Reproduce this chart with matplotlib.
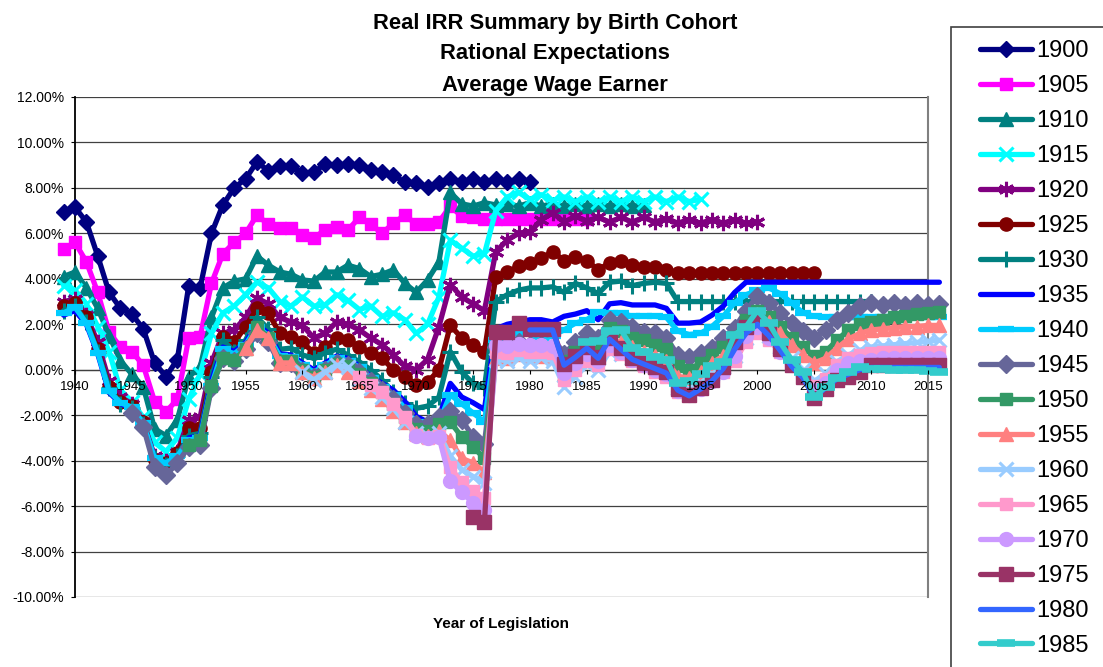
import numpy as np
import matplotlib
matplotlib.use('Agg')
import matplotlib.pyplot as plt
from matplotlib.patches import Rectangle

plt.rcParams['font.family'] = ['Liberation Sans', 'DejaVu Sans']

# ---------------- data (real IRR, %) ----------------
cohorts = [1900, 1905, 1910, 1915, 1920, 1925, 1930, 1935, 1940,
           1945, 1950, 1955, 1960, 1965, 1970, 1975, 1980, 1985]
start_years = [1939, 1939, 1939, 1939, 1939, 1939, 1939, 1939, 1939,
               1945, 1950, 1955, 1960, 1965, 1970, 1975, 1980, 1985]

irr_1900 = [6.95, 7.15, 6.5, 5.0, 3.4, 2.7, 2.45, 1.8, 0.3, -0.3, 0.45, 3.7, 3.6, 6.0,
            7.25, 8.0, 8.4, 9.15, 8.75, 8.95, 8.95, 8.65, 8.7, 9.05, 9.0, 9.05, 9.0,
            8.8, 8.7, 8.55, 8.25, 8.2, 8.05, 8.2, 8.4, 8.25, 8.4, 8.25, 8.4, 8.25, 8.4, 8.25]
irr_1905 = [5.3, 5.6, 4.75, 3.4, 1.65, 1.0, 0.8, 0.2, -1.4, -1.85, -1.3, 1.4, 1.45, 3.8,
            5.1, 5.6, 6.0, 6.8, 6.4, 6.25,
            6.25, 5.95, 5.8, 6.15, 6.3, 6.15, 6.7, 6.4, 6.0, 6.45, 6.8, 6.4, 6.4, 6.5, 7.2, 6.75,
            6.7, 6.65, 6.65, 6.65, 6.65, 6.65, 6.65, 6.65, 6.65, 6.65, 6.65]
irr_1910 = [4.1, 4.3, 3.6, 2.7, 1.5, 0.4, -0.2, -0.75, -2.6, -2.9, -2.2, -0.3, 0.1, 2.3,
            3.6, 3.9, 4.0, 5.0, 4.6, 4.3, 4.2, 3.95, 3.9, 4.3, 4.3, 4.6, 4.45, 4.1, 4.2,
            4.4, 3.8, 3.4, 3.95, 4.75, 7.8,
            7.3, 7.2, 7.35, 7.25, 7.3, 7.2, 7.35, 7.2, 7.3, 7.2, 7.3, 7.2, 7.3, 7.2, 7.3, 7.2, 7.25]
irr_1915 = [3.7, 3.5, 2.9, 1.9, 0.8, -0.9, -1.4, -2.1, -3.2, -3.6, -3.0, -1.3, -0.2, 1.6,
            2.5, 2.8, 3.3, 3.85, 3.6, 3.0, 2.8, 3.2, 2.8, 2.85, 3.3, 3.05, 2.65, 2.8, 2.35,
            2.5, 2.2, 1.6, 2.0, 3.2, 5.7, 5.35, 5.0, 5.1, 7.0, 7.6, 7.8, 7.5, 7.7, 7.45,
            7.6, 7.4, 7.6, 7.4, 7.6, 7.4, 7.6, 7.4, 7.6, 7.4, 7.6, 7.4, 7.5]
irr_1920 = [3.0, 3.1, 2.4, 1.2, -0.5, -1.2, -1.5, -2.3, -3.8, -4.0, -3.6, -2.2, -2.1, 0.3,
            1.6, 1.75, 2.3, 3.15, 2.9, 2.3, 2.1, 1.95, 1.4, 1.6, 2.1, 2.0, 1.75, 1.4, 1.1,
            0.65, 0.15, 0.0, 0.45, 1.9, 3.75, 3.2, 2.9, 2.6, 5.2, 5.7, 6.0, 6.05, 6.6, 6.9,
            6.5, 6.75,
            6.55, 6.7, 6.5, 6.7, 6.5, 6.7, 6.5, 6.65, 6.45, 6.6, 6.45, 6.6, 6.45, 6.6, 6.45, 6.5]
irr_1925 = [2.8, 2.95, 2.3, 0.9, -0.75, -1.4, -1.6, -2.3, -3.95, -4.1, -3.65, -2.55, -2.55,
            -0.1, 1.45, 1.2, 1.9, 2.7, 2.5, 1.6, 1.45, 1.2, 0.75, 1.0, 1.4, 1.3, 1.0, 0.75,
            0.5, 0.0, -0.3, -0.65, -0.55, 0.0, 1.95, 1.4, 1.1, 0.8, 4.1, 4.3, 4.55, 4.7,
            4.9, 5.2, 4.8, 4.95, 4.8, 4.4, 4.7, 4.8, 4.6, 4.5, 4.5, 4.4,
            4.25, 4.25, 4.25, 4.25, 4.25, 4.25, 4.25, 4.25, 4.25, 4.25, 4.25, 4.25, 4.25]
irr_1930 = [2.6, 2.8, 2.1, 0.8, -0.8, -1.5, -1.7, -2.4, -3.9, -4.2, -3.8, -2.9, -2.8, -0.3,
            1.3, 0.8, 1.3, 2.3, 1.8, 0.9, 0.95, 0.65, 0.5, 0.75, 0.9, 0.65, 0.35, 0.0,
            -0.45, -1.0, -1.45, -1.7, -1.6, -1.2, 0.8, -0.1, -0.6, -0.8, 3.0, 3.3, 3.5,
            3.6, 3.6, 3.65, 3.4, 3.8, 3.6, 3.35, 3.85, 3.9, 3.7, 3.8, 3.85, 3.8,
            3.0, 3.0, 3.0, 3.0, 3.0, 3.0, 3.0, 3.0, 3.0, 3.0, 3.0, 3.0, 3.0, 3.0, 3.0, 3.0, 3.0, 3.0]
irr_1935 = [2.4, 2.6, 2.0, 0.7, -1.0, -1.5, -1.7, -2.4, -3.9, -4.1, -3.9, -3.0, -2.9, -0.5,
            1.0, 0.8, 1.2, 2.0, 1.6, 0.7, 0.65, 0.3, 0.0, 0.3, 0.6, 0.5, 0.15, -0.3, -0.6,
            -0.9, -1.4, -2.05, -2.3, -2.1, -0.6, -1.2, -1.45, -1.75, 1.8, 2.0, 2.1, 2.2,
            2.2, 2.1, 2.35, 2.45, 2.6, 2.2, 2.9, 2.95, 2.85, 2.85, 2.85, 2.7, 2.05, 2.05,
            2.1, 2.4, 2.8, 3.4, 3.85,
            3.85, 3.85, 3.85, 3.85, 3.85, 3.85, 3.85, 3.85, 3.85, 3.85, 3.85, 3.85, 3.85,
            3.85, 3.85, 3.85, 3.85]
irr_1940 = [2.5, 2.75, 2.05, 0.75, -0.95, -1.45, -1.65, -2.35, -3.9, -4.1, -3.8, -3.1, -3.0,
            -0.7, 0.9, 0.7, 1.1, 1.9, 1.5, 0.6, 0.55, 0.2, -0.1, 0.2, 0.5, 0.4, 0.1, -0.35,
            -0.75, -1.1, -1.7, -2.3, -2.5, -2.3, -1.1, -1.5, -1.9, -2.3, 1.3, 1.5, 1.6, 1.6,
            1.3, 1.5, 1.75, 2.05, 2.2, 2.55, 2.5, 2.5, 2.35, 2.35, 2.35, 2.3, 1.7, 1.55, 1.6,
            1.9, 2.35, 2.95, 3.3, 3.5, 3.6, 3.35, 2.95, 2.5, 2.35,
            2.3, 2.3, 2.3, 2.3, 2.3, 2.3, 2.3, 2.3, 2.3, 2.3, 2.3]
irr_1945 = [-1.9, -2.5, -4.3, -4.65, -4.1, -3.4, -3.3, -0.8, 0.5, 0.4, 0.9, 1.6, 1.2, 0.3,
            0.3, -0.05, -0.3, 0.0, 0.3, 0.2, -0.1, -0.5, -0.9, -1.3, -1.9, -2.4, -2.4, -2.1,
            -1.8, -2.2, -2.95, -3.25,
            1.0, 1.0, 1.2, 1.1, 1.1, 1.0, 0.7, 1.2, 1.6, 1.4,
            2.2, 2.1, 1.9, 1.65, 1.6, 1.4, 0.65, 0.55, 0.75, 0.95,
            1.4, 1.85, 2.6, 3.25, 2.95, 2.5, 2.05, 1.7, 1.4, 1.75,
            2.2, 2.5, 2.8, 2.95, 2.85, 2.95, 2.85, 2.95, 2.85, 2.9]
irr_1950 = [-3.3, -3.1, -0.7, 0.5, 0.45, 0.9, 1.9, 1.4, 0.4, 0.4, 0.0, -0.3, 0.0, 0.25,
            0.15, -0.2, -0.6, -1.0, -1.5, -2.1, -2.6, -2.7, -2.4, -2.3, -2.95, -3.4, -3.9,
            0.8, 0.8, 0.9, 0.85, 0.85, 0.8, 0.4, 0.8, 1.1, 1.0,
            1.85, 1.7, 1.4, 1.3, 1.1, 0.9, 0.15, 0.0, 0.3, 0.65,
            1.0, 1.45, 2.2, 2.6, 2.3, 1.9, 1.4, 1.0, 0.6, 0.8,
            1.3, 1.75, 2.0, 2.1, 2.2, 2.3, 2.35, 2.45, 2.5, 2.55]
irr_1955 = [0.95, 1.75, 1.4, 0.3, 0.3, -0.1, -0.35, -0.1, 0.2, -0.1, -0.5, -0.9, -1.3, -1.8,
            -2.3, -2.8, -2.9, -2.7, -3.1, -3.9, -4.1, -4.5,
            0.5, 0.5, 0.7, 0.6, 0.6, 0.6, -0.2, 0.2, 0.6, 0.5,
            1.3, 1.2, 1.0, 0.8, 0.6, 0.4, -0.3, -0.35, -0.1, 0.3,
            0.6, 1.1, 1.9, 2.45, 2.1, 1.6, 1.1, 0.65, 0.3, 0.5,
            0.95, 1.35, 1.6, 1.75, 1.8, 1.85, 1.9, 1.9, 1.95, 1.95]
irr_1960 = [-0.1, -0.45, -0.1, 0.2, 0.1, -0.4, -0.8, -1.2, -1.7, -2.3, -2.8, -2.9, -2.8,
            -3.8, -4.4, -4.7, -5.0,
            0.45, 0.4, 0.5, 0.4, 0.5, 0.4, -0.75, -0.3, 0.2, 0.0,
            0.8, 0.7, 0.5, 0.3, 0.1, -0.1, -0.8, -0.85, -0.6, -0.2,
            0.1, 0.6, 1.4, 1.8, 1.5, 1.0, 0.5, 0.0, -0.5, -0.2,
            0.35, 0.65, 0.85, 1.0, 1.05, 1.1, 1.15, 1.2, 1.25, 1.3]
irr_1965 = [-0.3, -0.65, -1.0, -1.5, -2.1, -2.85, -3.0, -2.9, -4.3, -4.95, -5.35, -5.65,
            0.8, 0.75, 0.85, 0.8, 0.8, 0.75, -0.45, 0.0, 0.4, 0.2,
            0.9, 0.7, 0.4, 0.15, -0.1, -0.3, -1.0, -1.05, -0.8, -0.4,
            -0.1, 0.4, 1.2, 1.6, 1.3, 0.8, 0.3, -0.2, -0.7, -0.4,
            0.2, 0.5, 0.65, 0.75, 0.8, 0.8, 0.8, 0.8, 0.8, 0.8]
irr_1970 = [-2.9, -3.0, -2.95, -4.9, -5.4, -5.85, -6.15,
            1.1, 1.05, 1.15, 1.1, 1.1, 1.05, -0.15, 0.3, 0.7, 0.4,
            1.1, 0.8, 0.45, 0.2, 0.0, -0.2, -0.95, -1.1, -0.85, -0.5,
            -0.1, 0.6, 1.5, 1.9, 1.4, 0.8, 0.2, -0.3, -0.9, -0.6,
            0.0, 0.3, 0.4, 0.45, 0.5, 0.5, 0.5, 0.5, 0.5, 0.5]
irr_1975 = [-6.5, -6.7,
            1.65, 1.65, 2.05, 1.8, 1.8, 1.8, 0.25, 0.6, 1.0, 0.55,
            1.4, 0.95, 0.5, 0.3, 0.1, -0.1, -0.85, -1.1, -0.8, -0.45,
            0.1, 1.2, 1.9, 2.2, 1.6, 0.9, 0.2, -0.3, -1.25, -0.85,
            -0.45, -0.3, -0.1, 0.2, 0.2, 0.2, 0.2, 0.2, 0.2, 0.2]
irr_1980 = [1.75, 1.75, 1.75, 0.2, 0.55, 0.95, 0.5,
            1.35, 0.9, 0.45, 0.25, 0.05, -0.15, -0.9, -1.15, -0.85, -0.5,
            0.05, 0.9, 1.6, 2.0, 1.5, 0.85, 0.15, -0.35, -1.2, -0.8,
            -0.4, -0.2, 0.0, 0.1, 0.1, 0.1, 0.1, 0.1, 0.1, 0.1]
irr_1985 = [1.2, 1.25, 1.7, 1.75, 0.95, 0.8, 0.55, 0.45, -0.6, -0.5, -0.2, 0.15,
            0.35, 1.55, 1.9, 2.6, 2.05, 1.2, 0.45, -0.1, -1.2, -0.75,
            -0.35, -0.1, 0.1, 0.05, 0.05, 0.0, 0.0, 0.0, -0.05, -0.1]

x_tick_years = list(range(1940, 2016, 5))
y_ticks = list(range(-10, 13, 2))

# ---------------- styles ----------------
colors = ['#000080', '#FF00FF', '#008080', '#00FFFF', '#800080', '#800000',
          '#008080', '#0000FF', '#00CCFF', '#666699', '#339966', '#FF8080',
          '#99CCFF', '#FF99CC', '#CC99FF', '#993366', '#3366FF', '#33CCCC']
markers = ['D', 's', '^', 'x', (6, 2, 0), 'o', '+', 'None', '_',
           'D', 's', '^', 'x', 's', 'o', 's', 'None', '_']
msizes = [8, 8.5, 10, 10, 11, 9.5, 11, 0, 11, 9, 9, 10.5, 10, 9, 10, 9.5, 0, 13]
mews = [1, 1, 1, 2.2, 2.2, 1, 2.2, 1, 4.5, 1, 1, 1, 2.2, 1, 1, 1, 1, 5.5]

series = [irr_1900, irr_1905, irr_1910, irr_1915, irr_1920, irr_1925, irr_1930,
          irr_1935, irr_1940, irr_1945, irr_1950, irr_1955, irr_1960, irr_1965,
          irr_1970, irr_1975, irr_1980, irr_1985]

W, H = 1103, 667
fig = plt.figure(figsize=(W / 100, H / 100), dpi=100)
ax = fig.add_axes([75 / W, 1 - 597 / H, (928 - 75) / W, 500 / H])

handles = []
for c, s0, vals, col, mk, ms, mew in zip(cohorts, start_years, series, colors,
                                         markers, msizes, mews):
    yrs = np.arange(s0, s0 + len(vals))
    ln, = ax.plot(yrs, vals, color=col, lw=3.8, marker=mk, markersize=ms,
                  markeredgewidth=mew, markerfacecolor=col, markeredgecolor=col,
                  clip_on=False, label=str(c), zorder=3,
                  solid_joinstyle='round', solid_capstyle='round')
    handles.append(ln)

ax.set_xlim(1940, 2015)
ax.set_ylim(-10, 12)
ax.set_yticks(y_ticks)
ax.set_yticklabels([f"{v:.2f}%" for v in y_ticks])
ax.set_xticks(x_tick_years)
ax.set_xticklabels([str(y) for y in x_tick_years])
ax.yaxis.grid(True, color='#404040', lw=0.9, zorder=0)
ax.set_axisbelow(True)
ax.xaxis.set_zorder(5)

ax.spines['top'].set_visible(False)
ax.spines['right'].set_color('#808080')
ax.spines['right'].set_linewidth(1.5)
ax.spines['left'].set_color('black')
ax.spines['left'].set_linewidth(1.3)
ax.spines['bottom'].set_position(('data', 0))
ax.spines['bottom'].set_color('#404040')
ax.spines['bottom'].set_linewidth(0.9)
ax.spines['bottom'].set_zorder(1)

ax.tick_params(axis='y', direction='out', length=3, pad=5, labelsize=10, colors='black')
ax.tick_params(axis='x', direction='out', length=3, pad=5, labelsize=9.5, colors='black')

# titles
fig.text(555 / W, 1 - 23 / H, "Real IRR Summary by Birth Cohort", ha='center', va='center',
         fontsize=15.8, fontweight='bold')
fig.text(555 / W, 1 - 53 / H, "Rational Expectations", ha='center', va='center',
         fontsize=15.8, fontweight='bold')
fig.text(555 / W, 1 - 85 / H, "Average Wage Earner", ha='center', va='center',
         fontsize=15.8, fontweight='bold')
fig.text(501 / W, 1 - 624 / H, "Year of Legislation", ha='center', va='center',
         fontsize=11, fontweight='bold')

# legend
fig.patches.append(Rectangle((951 / W, -0.05), 0.2, 1.05 - 27 / H,
                             transform=fig.transFigure, fill=False,
                             edgecolor='#404040', lw=1.2))
fig.legend(handles, [str(c) for c in cohorts], loc='upper left',
           bbox_to_anchor=(980 / W, 1 - 40 / H), bbox_transform=fig.transFigure,
           frameon=False, fontsize=17, handlelength=2.2, handletextpad=0.2,
           labelspacing=0.55, borderpad=0, borderaxespad=0)

fig.savefig('out.png', dpi=100)
